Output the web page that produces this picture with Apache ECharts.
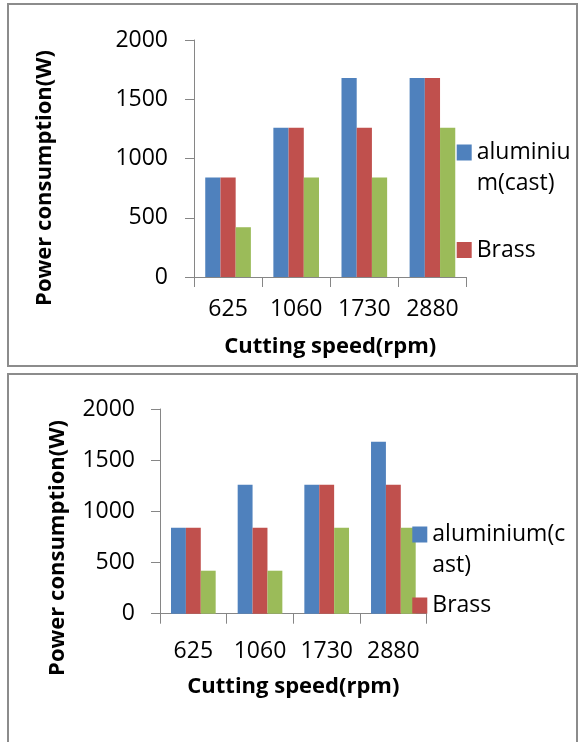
<!DOCTYPE html>
<html><head><meta charset="utf-8">
<script src="https://cdn.jsdelivr.net/npm/echarts@6/dist/echarts.min.js"></script>
<style>html,body{margin:0;padding:0;background:#fff}#c{width:578px;height:742px}</style>
</head><body><div id="c"></div>
<script>
// ---- data ----
const categories = ['625', '1060', '1730', '2880'];
const seriesNames = ['aluminium(cast)', 'Brass', 'Series3'];
const topAluminium = [840, 1260, 1680, 1680];
const topBrass = [840, 1260, 1260, 1680];
const topThird = [420, 840, 840, 1260];
const bottomAluminium = [840, 1260, 1260, 1680];
const bottomBrass = [840, 840, 1260, 1260];
const bottomThird = [420, 420, 840, 840];
const yMin = 0, yMax = 2000, yInterval = 500;
const xTitle = 'Cutting speed(rpm)';
const yTitle = 'Power consumption(W)';

const colors = ['#4F81BD', '#C0504D', '#9BBB59'];
const FONT = 'Open Sans';
const AXIS = '#868686';

function xAxisFor(gi, labelMargin, nameGap) {
  return {
    type: 'category', gridIndex: gi, data: categories,
    axisLine: { show: true, lineStyle: { color: AXIS, width: 1 } },
    axisTick: { show: true, length: 10, alignWithLabel: false, lineStyle: { color: AXIS } },
    axisLabel: { interval: 0, margin: labelMargin, fontFamily: FONT, fontSize: 23, color: '#000' },
    name: xTitle, nameLocation: 'middle', nameGap: nameGap,
    nameTextStyle: { fontFamily: FONT, fontSize: 22, fontWeight: 'bold', color: '#000' }
  };
}
function yAxisFor(gi, labelMargin) {
  return {
    type: 'value', gridIndex: gi, min: yMin, max: yMax, interval: yInterval,
    splitLine: { show: false },
    axisLine: { show: true, lineStyle: { color: AXIS, width: 1 } },
    axisTick: { show: true, length: 9, lineStyle: { color: AXIS } },
    axisLabel: { margin: labelMargin, fontFamily: FONT, fontSize: 23, color: '#000',
      formatter: function (v) { return String(v); } }
  };
}
function barSeries(name, data, idx, gi) {
  return {
    type: 'bar', name: name, data: data, xAxisIndex: gi, yAxisIndex: gi,
    barGap: '0%', barCategoryGap: '33%',
    itemStyle: { color: colors[idx] }, silent: true
  };
}
function legendFor(left, top, gap, splitAt) {
  return {
    orient: 'vertical', left: left, top: top, padding: 0, itemGap: gap,
    data: [seriesNames[0], seriesNames[1]], icon: 'rect', itemWidth: 15, itemHeight: 16,
    selectedMode: false,
    textStyle: { fontFamily: FONT, fontSize: 23, color: '#000', lineHeight: 31 },
    formatter: function (n) {
      if (n === seriesNames[0]) return '\n' + n.slice(0, splitAt) + '\n' + n.slice(splitAt);
      return n;
    }
  };
}

const chart = echarts.init(document.getElementById('c'), null, { renderer: 'canvas' });
chart.setOption({
  backgroundColor: '#fff',
  animation: false,
  grid: [
    { left: 194, top: 40, width: 272.5, height: 237 },
    { left: 160, top: 409, width: 266.7, height: 204.7 }
  ],
  xAxis: [xAxisFor(0, 21, 59), xAxisFor(1, 26, 62)],
  yAxis: [yAxisFor(0, 26), yAxisFor(1, 25)],
  legend: [legendFor(456.7, 106, 35.5, 8), legendFor(412.3, 488, 9, 11)],
  series: [
    barSeries(seriesNames[0], topAluminium, 0, 0),
    barSeries(seriesNames[1], topBrass, 1, 0),
    barSeries(seriesNames[2], topThird, 2, 0),
    barSeries(seriesNames[0], bottomAluminium, 0, 1),
    barSeries(seriesNames[1], bottomBrass, 1, 1),
    barSeries(seriesNames[2], bottomThird, 2, 1)
  ],
  graphic: [
    { type: 'rect', shape: { x: 8, y: 4, width: 569, height: 362 }, style: { fill: 'none', stroke: '#8c8c8c', lineWidth: 2 }, silent: true, z: -1 },
    { type: 'rect', shape: { x: 8, y: 374, width: 569, height: 420 }, style: { fill: 'none', stroke: '#8c8c8c', lineWidth: 2 }, silent: true, z: -1 },
    { type: 'text', x: 45, y: 178, rotation: Math.PI / 2, style: { text: yTitle, fontFamily: FONT, fontSize: 22, fontWeight: 'bold', fill: '#000', align: 'center', verticalAlign: 'middle' }, silent: true },
    { type: 'text', x: 58, y: 548, rotation: Math.PI / 2, style: { text: yTitle, fontFamily: FONT, fontSize: 22, fontWeight: 'bold', fill: '#000', align: 'center', verticalAlign: 'middle' }, silent: true }
  ]
});
</script></body></html>
